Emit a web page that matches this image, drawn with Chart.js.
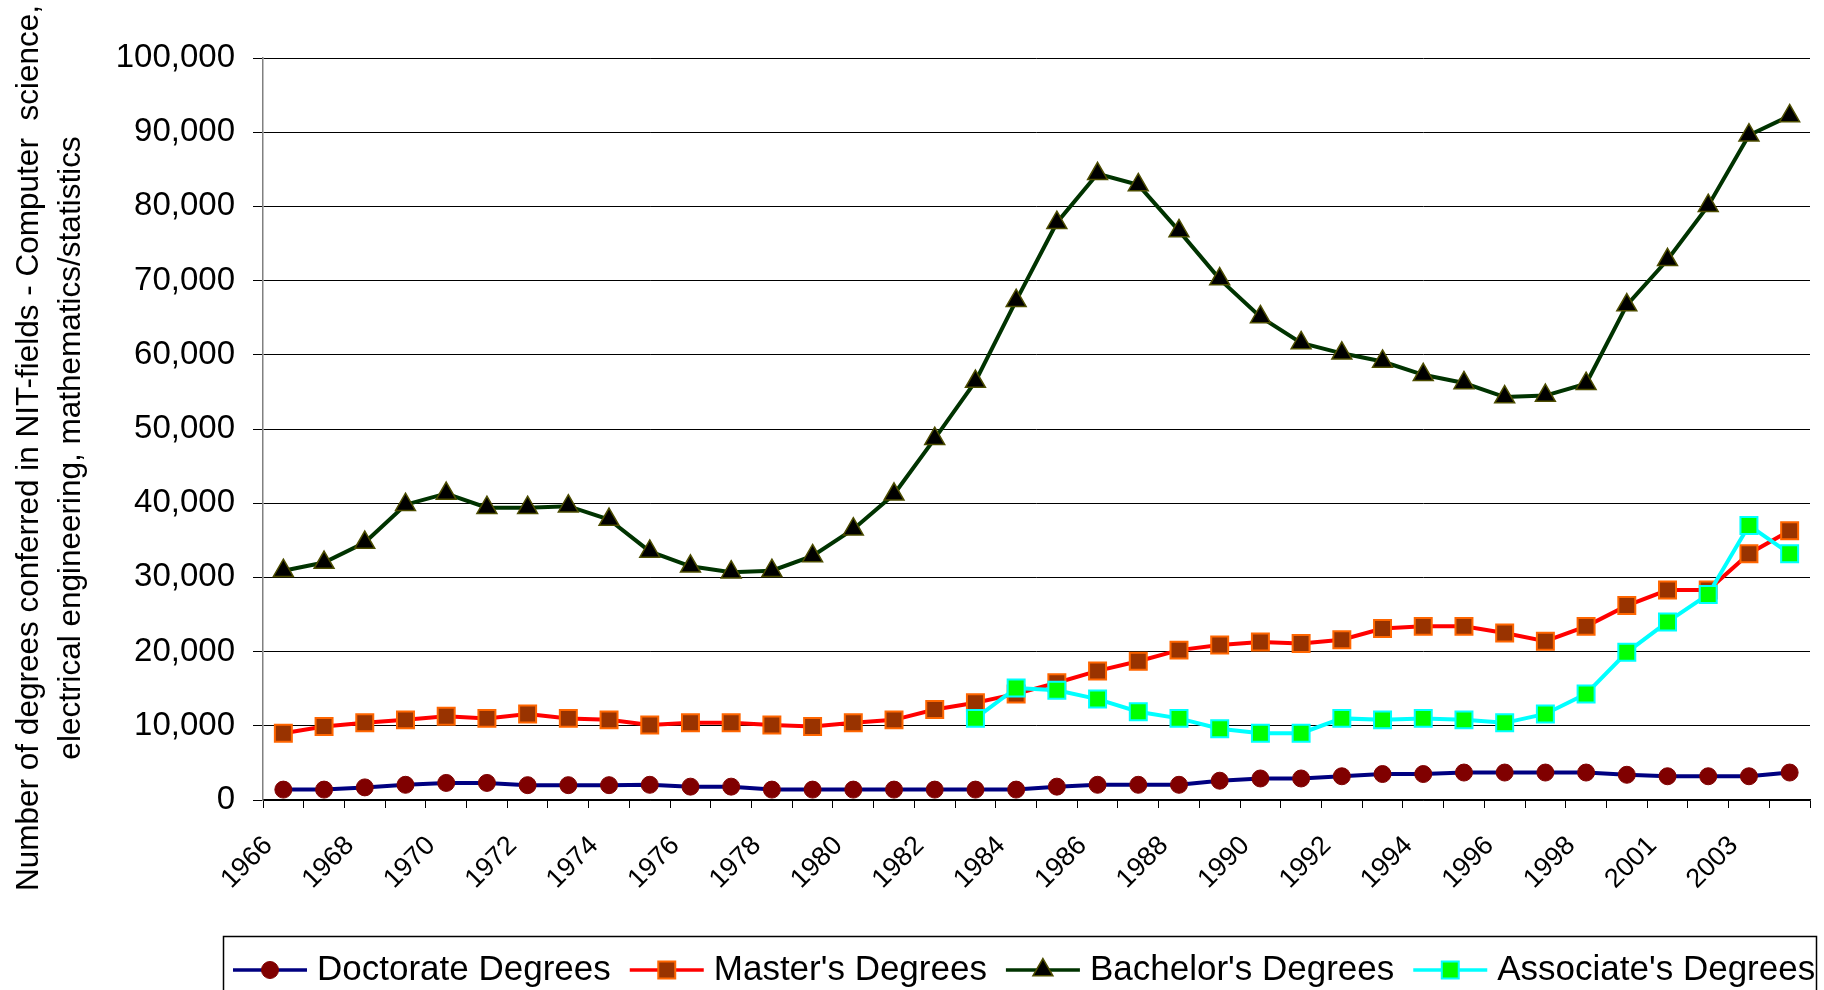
<!DOCTYPE html>
<html>
<head>
<meta charset="utf-8">
<script src="https://cdn.jsdelivr.net/npm/chart.js@4.4.1/dist/chart.umd.min.js"></script>
<style>
    body { margin: 0; background: #fff; }
    canvas { display: block; }
</style>
</head>
<body>
<canvas id="grafico" width="1824" height="990"></canvas>
<script>
// Anos (a partir de 1998 a série pula 1999)
const anos = ['1966', '1967', '1968', '1969', '1970', '1971', '1972', '1973', '1974', '1975',
    '1976', '1977', '1978', '1979', '1980', '1981', '1982', '1983', '1984', '1985',
    '1986', '1987', '1988', '1989', '1990', '1991', '1992', '1993', '1994', '1995',
    '1996', '1997', '1998', '2000', '2001', '2002', '2003', '2004'];

const doutorado = [1400, 1400, 1700, 2050, 2300, 2300, 2000, 2000, 2000, 2050,
    1800, 1800, 1400, 1400, 1400, 1400, 1400, 1400, 1400, 1800,
    2050, 2050, 2050, 2600, 2900, 2900, 3200, 3500, 3500, 3700,
    3700, 3700, 3700, 3400, 3200, 3200, 3200, 3700];

const mestrado = [9000, 9900, 10400, 10800, 11300, 11000, 11600, 11000, 10800, 10100,
    10400, 10400, 10100, 9900, 10400, 10800, 12200, 13100, 14300, 15800,
    17400, 18700, 20200, 20900, 21300, 21100, 21600, 23100, 23400, 23400,
    22500, 21400, 23400, 26200, 28300, 28300, 33200, 36300];

const bacharelado = [30900, 32000, 34700, 39800, 41300, 39400, 39400, 39600, 37800, 33500,
    31500, 30700, 30900, 32900, 36500, 41200, 48700, 56400, 67300, 77800,
    84400, 82900, 76700, 70200, 65100, 61600, 60200, 59100, 57300, 56200,
    54300, 54500, 56100, 66700, 72800, 80100, 89600, 92200];

// Associate's só começa em 1983
const associado = [null, null, null, null, null, null, null, null, null, null,
    null, null, null, null, null, null, null, 11000, 15100, 14800,
    13600, 11900, 11000, 9600, 9000, 9000, 11000, 10800, 11000, 10800,
    10400, 11600, 14300, 19900, 24000, 27700, 37000, 33200];

const tituloY = ['Number of degrees conferred in NIT-fields - Computer  science,',
    'electrical engineering, mathematics/statistics'];

const fonte = '"Liberation Sans", Arial, sans-serif';
Chart.defaults.font.family = fonte;
Chart.defaults.color = '#000';

const series = [
    { label: 'Doctorate Degrees', data: doutorado, linha: '#000080', fundo: '#800000', borda: '#800000', estilo: 'circle', raio: 8.5, bordaPt: 1, ordem: 3 },
    { label: "Master's Degrees", data: mestrado, linha: '#ff0000', fundo: '#993300', borda: '#ff6600', estilo: 'rect', raio: 12, bordaPt: 2, ordem: 2 },
    { label: "Bachelor's Degrees", data: bacharelado, linha: '#003300', fundo: '#000000', borda: '#4d4d00', estilo: 'triangle', raio: 11.5, bordaPt: 1.5, ordem: 1 },
    { label: "Associate's Degrees", data: associado, linha: '#00ffff', fundo: '#00ff00', borda: '#00ffff', estilo: 'rect', raio: 12, bordaPt: 2, ordem: 0 }
];

// Desenha um marcador igual ao da série (usado na legenda)
function desenhaMarcador(ctx, s, x, y) {
    ctx.save();
    ctx.fillStyle = s.fundo;
    ctx.strokeStyle = s.borda;
    ctx.lineWidth = s.bordaPt;
    ctx.beginPath();
    if (s.estilo === 'circle') {
        ctx.arc(x, y, s.raio, 0, Math.PI * 2);
    } else if (s.estilo === 'rect') {
        const l = s.raio * Math.SQRT1_2;
        ctx.rect(x - l, y - l, 2 * l, 2 * l);
    } else {
        const r = s.raio;
        ctx.moveTo(x, y - r);
        ctx.lineTo(x + r * Math.sin(2 * Math.PI / 3), y + r / 2);
        ctx.lineTo(x - r * Math.sin(2 * Math.PI / 3), y + r / 2);
        ctx.closePath();
    }
    ctx.fill();
    ctx.stroke();
    ctx.restore();
}

// Título do eixo Y e legenda com moldura
const extras = {
    id: 'extras',
    afterDraw(chart) {
        const ctx = chart.ctx;
        ctx.save();
        ctx.fillStyle = '#000';
        ctx.font = '31.5px ' + fonte;
        ctx.translate(38, 448);
        ctx.rotate(-Math.PI / 2);
        ctx.textAlign = 'center';
        ctx.textBaseline = 'alphabetic';
        ctx.fillText(tituloY[0], 0, 0);
        ctx.fillText(tituloY[1], 0, 42);
        ctx.restore();

        ctx.save();
        ctx.strokeStyle = '#000';
        ctx.lineWidth = 1.5;
        ctx.strokeRect(223.5, 936.5, 1593, 70);
        ctx.font = '35px ' + fonte;
        ctx.textBaseline = 'middle';
        const y = 970;
        let x = 233;
        series.forEach(s => {
            ctx.strokeStyle = s.linha;
            ctx.lineWidth = 3.5;
            ctx.beginPath();
            ctx.moveTo(x, y);
            ctx.lineTo(x + 74, y);
            ctx.stroke();
            desenhaMarcador(ctx, s, x + 37, y);
            ctx.fillStyle = '#000';
            ctx.fillText(s.label, x + 84, y);
            x += 84 + ctx.measureText(s.label).width + 19;
        });
        ctx.restore();
    }
};

const ctx = document.getElementById('grafico').getContext('2d');
const chart = new Chart(ctx, {
    type: 'line',
    data: {
        labels: anos,
        datasets: series.map(s => ({
            label: s.label,
            data: s.data,
            order: s.ordem,
            borderColor: s.linha,
            borderWidth: 4,
            tension: 0,
            fill: false,
            pointStyle: s.estilo,
            pointRadius: s.raio,
            pointBackgroundColor: s.fundo,
            pointBorderColor: s.borda,
            pointBorderWidth: s.bordaPt
        }))
    },
    options: {
        responsive: false,
        animation: false,
        layout: { padding: { top: 58, right: 10, left: 0, bottom: 0 } },
        plugins: {
            legend: { display: false },
            tooltip: { enabled: false }
        },
        scales: {
            x: {
                offset: true,
                afterFit: scale => {
                    scale.height = 190;
                    scale.paddingLeft = 0;
                    scale.paddingRight = 0;
                },
                grid: { offset: true, drawOnChartArea: false, drawTicks: true, tickLength: 8, color: '#000' },
                border: { color: '#000', width: 1.5 },
                ticks: {
                    autoSkip: false,
                    maxRotation: 45,
                    minRotation: 45,
                    labelOffset: -15,
                    padding: 22,
                    font: { size: 27 },
                    callback: function (valor, i) {
                        return i % 2 === 0 ? anos[i] : '';
                    }
                }
            },
            y: {
                min: 0,
                max: 100000,
                afterFit: scale => { scale.width = 263; },
                grid: { color: '#000', lineWidth: 1, tickLength: 10 },
                border: { color: '#808080', width: 1.5 },
                ticks: {
                    stepSize: 10000,
                    padding: 18,
                    font: { size: 33 },
                    callback: valor => valor.toLocaleString('en-US')
                }
            }
        }
    },
    plugins: [extras]
});
</script>
</body>
</html>
